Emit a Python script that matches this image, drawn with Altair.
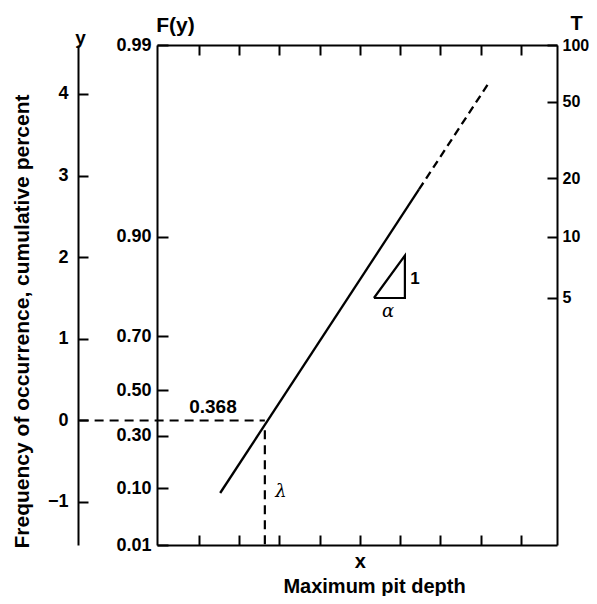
import math
import altair as alt
import pandas as pd

# ---------------- data ----------------
x_ticks = [1, 2, 3, 4, 5, 6, 7, 8, 9]
y_ticks = [-1, 0, 1, 2, 3, 4]
F_labels = [0.01, 0.10, 0.30, 0.50, 0.70, 0.90, 0.99]
T_labels = [5, 10, 20, 50, 100]

solid_x = [1.53, 6.47]
solid_y = [-0.89, 2.83]
dash_x = [6.47, 8.21]
dash_y = [2.83, 4.14]

lam_x = 2.64
yaxis_x = -1.963

tri_x = [5.35, 6.12, 6.12, 5.35]
tri_y = [1.50, 1.50, 2.02, 1.50]

ann_bold_text = ["0.368", "y"]
ann_bold_x = [1.35, -1.94]
ann_bold_y = [0.16, 4.68]

ann_greek_text = ["\u03bb", "\u03b1"]
ann_greek_x = [3.04, 5.70]
ann_greek_y = [-0.88, 1.33]

ann_one_text = ["1"]
ann_one_x = [6.37]
ann_one_y = [1.73]


def gumbel(p):
    return -math.log(-math.log(p))


F_pos = [gumbel(f) for f in F_labels]
T_pos = [gumbel(1 - 1 / t) for t in T_labels]
y_lo, y_hi = gumbel(0.01), gumbel(0.99)

W, H = 400, 500
FONT = "Liberation Sans, Arial, sans-serif"

xs = alt.Scale(domain=[-0.04, 9.9], nice=False, zero=False)
ys = alt.Scale(domain=[y_lo, y_hi], nice=False, zero=False)

df_solid = pd.DataFrame({"x": solid_x, "y": solid_y})
df_dash = pd.DataFrame({"x": dash_x, "y": dash_y})
df_h = pd.DataFrame({"x": [yaxis_x], "x2": [lam_x], "y": [0.0]})
df_v = pd.DataFrame({"x": [lam_x], "y": [-0.12], "y2": [y_lo]})
df_tri = pd.DataFrame({"x": tri_x, "y": tri_y, "o": list(range(len(tri_x)))})
df_bold = pd.DataFrame({"x": ann_bold_x, "y": ann_bold_y, "t": ann_bold_text})
df_greek = pd.DataFrame({"x": ann_greek_x, "y": ann_greek_y, "t": ann_greek_text})
df_one = pd.DataFrame({"x": ann_one_x, "y": ann_one_y, "t": ann_one_text})

common_axis = dict(
    domainColor="black", domainWidth=2, tickColor="black", tickWidth=2,
    labelColor="black", labelFont=FONT, labelFontWeight="bold",
    labelOverlap=False, grid=False,
    titleColor="black", titleFont=FONT, titleFontWeight="bold",
)

# main solid line: bottom x axis (ticks inward) + F(y) axis on the left edge
solid = alt.Chart(df_solid).mark_line(color="black", strokeWidth=2.3).encode(
    x=alt.X("x:Q", scale=xs, axis=alt.Axis(
        orient="top", offset=-H, values=x_ticks, tickSize=10,
        labelExpr="datum.value == 5 ? 'x' : ''", labelPadding=-26,
        labelBaseline="middle", labelFontSize=20,
        title="Maximum pit depth", titleX=217, titleY=47,
        titleBaseline="alphabetic", titleAlign="center", titleFontSize=20,
        **common_axis)),
    y=alt.Y("y:Q", scale=ys, axis=alt.Axis(
        orient="right", offset=-W, values=F_pos, tickSize=11,
        labelExpr="format(exp(-exp(-datum.value)), '.2f')",
        labelAlign="right", labelPadding=-17, labelFontSize=18,
        title="F(y)", titleAngle=0, titleX=18, titleY=-20,
        titleAlign="center", titleBaseline="middle", titleFontSize=21,
        **common_axis)),
)

# dashed extension: top x axis (ticks inward) + T axis on the right edge
dashed = alt.Chart(df_dash).mark_line(color="black", strokeWidth=2.3, strokeDash=[8, 5]).encode(
    x=alt.X("x:Q", scale=xs, axis=alt.Axis(
        orient="bottom", offset=-H, values=x_ticks, tickSize=10,
        labels=False, title="", **common_axis)),
    y=alt.Y("y:Q", scale=ys, axis=alt.Axis(
        orient="left", offset=-W, values=T_pos, tickSize=10,
        labelExpr="format(1 / (1 - exp(-exp(-datum.value))), '.0f')",
        labelAlign="left", labelPadding=-15, labelFontSize=16,
        title="T", titleAngle=0, titleX=19, titleY=-22,
        titleAlign="center", titleBaseline="middle", titleFontSize=20,
        **common_axis)),
)

# horizontal dashed line at y = 0, carries the far-left reduced-variate axis
hline = alt.Chart(df_h).mark_rule(color="black", strokeWidth=2, strokeDash=[9, 6]).encode(
    x=alt.X("x:Q", scale=xs, axis=None),
    x2="x2:Q",
    y=alt.Y("y:Q", scale=ys, axis=alt.Axis(
        orient="right", offset=-(W + 79), values=y_ticks, tickSize=10,
        format="d", labelAlign="right", labelPadding=-20, labelFontSize=18,
        title="Frequency of occurrence, cumulative percent",
        titleAngle=270, titleX=-56, titleY=276, titleAlign="center",
        titleBaseline="middle", titleFontSize=21,
        **common_axis)),
)

vline = alt.Chart(df_v).mark_rule(color="black", strokeWidth=2.2, strokeDash=[9, 6]).encode(
    x=alt.X("x:Q", scale=xs, axis=None),
    y=alt.Y("y:Q", scale=ys, axis=None),
    y2="y2:Q",
)

tri = alt.Chart(df_tri).mark_line(color="black", strokeWidth=2.2).encode(
    x=alt.X("x:Q", scale=xs, axis=None),
    y=alt.Y("y:Q", scale=ys, axis=None),
    order="o:Q",
)

txt_bold = alt.Chart(df_bold).mark_text(
    font=FONT, fontWeight="bold", fontSize=19, color="black", baseline="middle"
).encode(
    x=alt.X("x:Q", scale=xs, axis=None),
    y=alt.Y("y:Q", scale=ys, axis=None),
    text="t:N",
)

txt_greek = alt.Chart(df_greek).mark_text(
    font="DejaVu Serif, serif", fontStyle="italic", fontSize=18, color="black", baseline="middle"
).encode(
    x=alt.X("x:Q", scale=xs, axis=None),
    y=alt.Y("y:Q", scale=ys, axis=None),
    text="t:N",
)

txt_one = alt.Chart(df_one).mark_text(
    font=FONT, fontWeight="bold", fontSize=17, color="black", baseline="middle"
).encode(
    x=alt.X("x:Q", scale=xs, axis=None),
    y=alt.Y("y:Q", scale=ys, axis=None),
    text="t:N",
)

chart = alt.layer(
    solid, dashed, hline, vline, tri, txt_bold, txt_greek, txt_one
).resolve_axis(x="independent", y="independent").properties(
    width=W, height=H,
    autosize=alt.AutoSizeParams(type="none"),
    padding={"left": 149, "top": 37, "right": 32, "bottom": 51},
    background="white",
).configure_view(stroke=None)

chart.save("out.html", embed_options={"renderer": "svg", "actions": False})
